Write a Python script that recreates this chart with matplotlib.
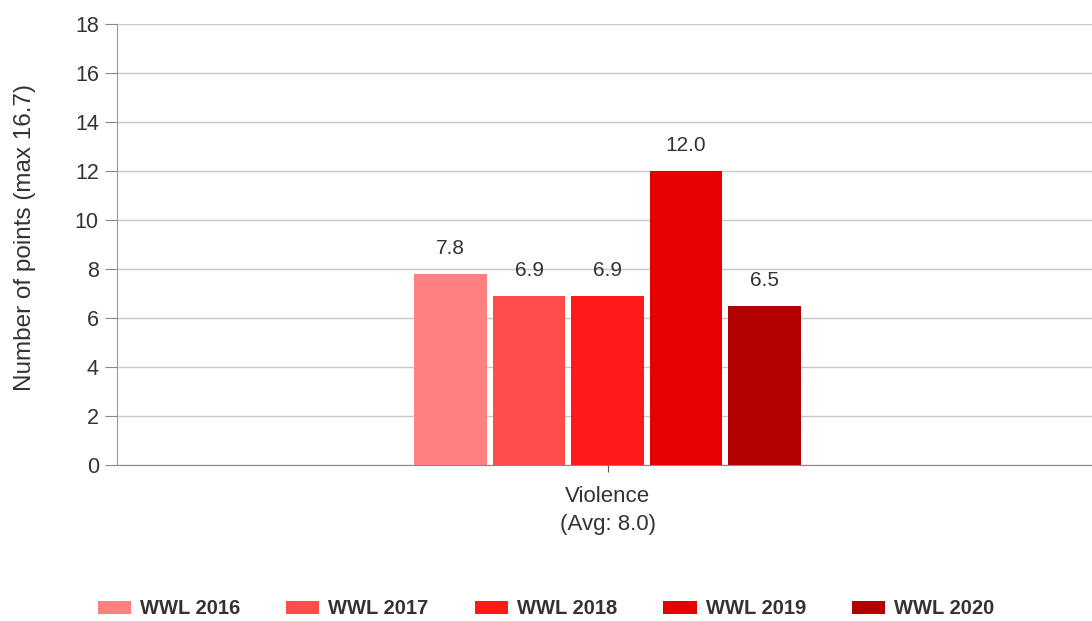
import matplotlib
matplotlib.use("Agg")
import matplotlib.pyplot as plt
from matplotlib.patches import Patch

categories = ["Violence\n(Avg: 8.0)"]
series = ["WWL 2016", "WWL 2017", "WWL 2018", "WWL 2019", "WWL 2020"]
values = [7.8, 6.9, 6.9, 12.0, 6.5]
colors = ["#FF8080", "#FF4D4D", "#FF1A1A", "#E60000", "#B30000"]
yticks = [0, 2, 4, 6, 8, 10, 12, 14, 16, 18]
ylabel = "Number of points (max 16.7)"

plt.rcParams['font.family'] = ['Liberation Sans', 'DejaVu Sans']

fig = plt.figure(figsize=(10.92, 6.21), dpi=100)
ax = fig.add_axes([0.107, 0.2512, 0.893, 0.7102])

n = len(series)
for i, (s, v, c) in enumerate(zip(series, values, colors)):
    x = i - (n - 1) / 2
    ax.bar(x, v, width=0.92, color=c, zorder=3)
    ax.text(x, v + 0.65, f"{v:.1f}", ha="center", va="bottom", fontsize=15, color="#333333", zorder=4)

ax.set_xlim(-6.25, 6.17)
ax.set_ylim(0, 18)
ax.set_yticks(yticks)
ax.set_yticklabels([str(t) for t in yticks], fontsize=15.5, color="#333333")
ax.set_xticks([0])
ax.set_xticklabels(categories, fontsize=16, color="#333333", linespacing=1.45)
ax.tick_params(axis="y", length=9, color="#888888", pad=4)
ax.tick_params(axis="x", length=5, color="#555555", pad=10)
ax.grid(axis="y", color="#C8C8C8", linewidth=1, zorder=0)
ax.set_axisbelow(True)
for sp in ["top", "right"]:
    ax.spines[sp].set_visible(False)
ax.spines["left"].set_color("#999999")
ax.spines["bottom"].set_color("#888888")
fig.text(25 / 1092, 1 - 238 / 621, ylabel, rotation=90, ha="center", va="center",
         fontsize=17.5, color="#333333")

handles = [Patch(facecolor=c, edgecolor="none") for c in colors]
leg = fig.legend(handles, series, loc="center", bbox_to_anchor=(0.5, 1 - 609 / 621), ncol=5,
                 frameon=False, handlelength=1.64, handleheight=0.6, columnspacing=2.3,
                 handletextpad=0.45, prop={"weight": "bold", "size": 14.5})
for t in leg.get_texts():
    t.set_color("#333333")

fig.savefig("out.png", dpi=100)
